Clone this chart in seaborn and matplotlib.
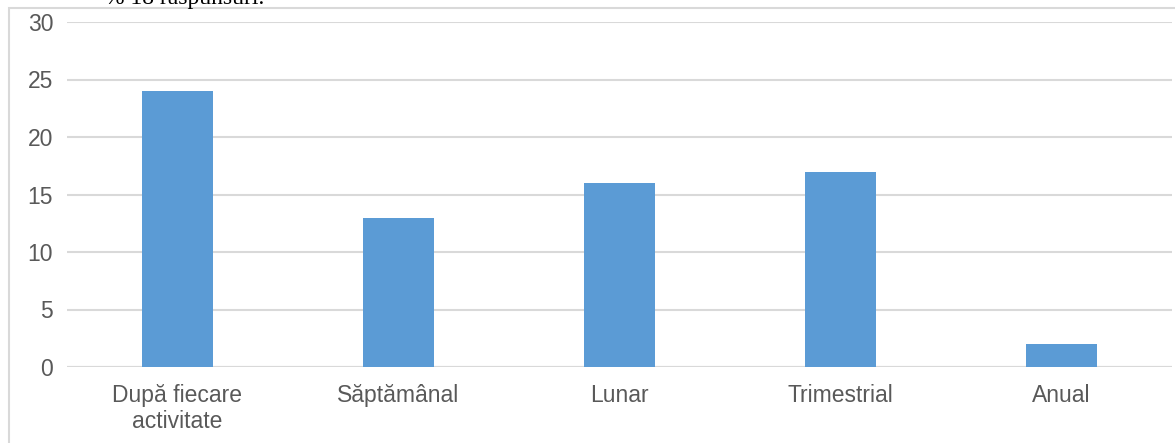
import matplotlib
matplotlib.use("Agg")
import matplotlib.pyplot as plt
import seaborn as sns
import pandas as pd
from matplotlib.patches import Rectangle

categories = ["După fiecare\nactivitate", "Săptămânal", "Lunar", "Trimestrial", "Anual"]
values = [24, 13, 16, 17, 2]
y_ticks = [0, 5, 10, 15, 20, 25, 30]

sns.set_theme(style="white")
plt.rcParams["font.family"] = ["Liberation Sans", "DejaVu Sans"]

df = pd.DataFrame({"categorie": categories, "valoare": values})

fig = plt.figure(figsize=(11.75, 4.43), dpi=100)
ax = fig.add_axes([67 / 1175, 1 - 367 / 443, (1172 - 67) / 1175, (367 - 22) / 443])

sns.barplot(data=df, x="categorie", y="valoare", color="#5b9bd5", saturation=1,
            width=0.317, linewidth=0, ax=ax, zorder=3)

ax.set_ylim(0, 30)
ax.set_yticks(y_ticks)
ax.yaxis.grid(True, color="#d9d9d9", linewidth=1.5, zorder=0)
ax.xaxis.grid(False)
for s in ax.spines.values():
    s.set_visible(False)
ax.set_xlabel("")
ax.set_ylabel("")
ax.tick_params(axis="both", length=0, labelsize=16.5, labelcolor="#595959")
ax.tick_params(axis="y", pad=10)
ax.tick_params(axis="x", pad=12)
ax.axhline(0, color="#d9d9d9", linewidth=1.5, zorder=2)

# chart frame (extends past the right and bottom edges)
fig.patches.append(Rectangle((9 / 1175, -0.1), 1.2, 1 - 8 / 443 + 0.1,
                             transform=fig.transFigure, fill=False,
                             edgecolor="#d9d9d9", linewidth=1.5))

# caption line from the surrounding text, cut at the top
fig.text(105 / 1175, 1 - 4 / 443, "% 18 răspunsuri.", ha="left", va="baseline",
         fontsize=17, color="black", family=["Liberation Serif", "DejaVu Serif"])

fig.savefig("out.png", dpi=100)
